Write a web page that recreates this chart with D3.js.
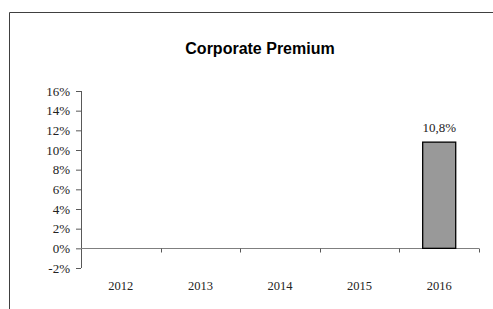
<!DOCTYPE html>
<html>
<head>
<meta charset="utf-8">
<script src="https://cdn.jsdelivr.net/npm/d3@7"></script>
<style>
  body { margin: 0; background: #fff; }
  svg { display: block; }
</style>
</head>
<body>
<svg class="chart"></svg>
<script>
const years = ["2012", "2013", "2014", "2015", "2016"]
const premium = [null, null, null, null, 10.8]
const yTicks = [-2, 0, 2, 4, 6, 8, 10, 12, 14, 16]
const title = "Corporate Premium"

const W = 493, H = 309
const margin = {top: 91, right: 14, bottom: 41, left: 81}
const width = 479 - margin.left, height = 268 - margin.top

let svg = d3.select(".chart").attr("width", W).attr("height", H)

// outer frame (only top and left edges fall inside the window)
svg.append("path")
  .attr("d", "M9.5," + H + "V12.5H" + W)
  .attr("fill", "none")
  .attr("stroke", "#404040")
  .attr("stroke-width", 1)

svg.append("text")
  .attr("x", 260).attr("y", 54)
  .attr("text-anchor", "middle")
  .style("font-family", "Liberation Sans, Arial, sans-serif")
  .style("font-size", "16px")
  .style("font-weight", "bold")
  .text(title)

let chart = svg.append("g")
  .attr("transform", "translate(" + margin.left + "," + margin.top + ")")

let x = d3.scaleBand().domain(years).range([0, width]).paddingInner(0.585).paddingOuter(0.2925)
let x2 = d3.scaleBand().domain(years).range([0, width])
let y = d3.scaleLinear().domain([-2, 16]).range([height, 0])

let fmt = d => (d + "").replace(".", ",") + "%"

// y axis
let yAxis = d3.axisLeft(y).tickValues(yTicks).tickSize(5).tickPadding(6).tickFormat(fmt)
let gy = chart.append("g").call(yAxis)
gy.select(".domain").attr("stroke", "#595959").attr("d", "M0.5," + y(16) + "V" + y(-2))
gy.selectAll(".tick line").attr("stroke", "#595959")
gy.selectAll("text")
  .style("font-family", "Liberation Serif, serif")
  .style("font-size", "13px")
  .attr("fill", "#222")

// x axis at zero
let gx = chart.append("g").attr("transform", "translate(0," + Math.round(y(0)) + ".5)")
gx.append("line").attr("x1", 0).attr("x2", width).attr("stroke", "#7f7f7f")
years.forEach((yr, i) => {
  let tx = Math.round(x2(yr) + x2.bandwidth()) + 0.5
  gx.append("line").attr("x1", tx).attr("x2", tx).attr("y1", 0).attr("y2", 4).attr("stroke", "#595959")
})
chart.selectAll(".xlab")
  .data(years)
  .enter().append("text")
  .attr("class", "xlab")
  .attr("x", d => x2(d) + x2.bandwidth() / 2)
  .attr("y", height + 22)
  .attr("text-anchor", "middle")
  .style("font-family", "Liberation Serif, serif")
  .style("font-size", "12.5px")
  .attr("fill", "#222")
  .text(d => d)

let data = years.map((d, i) => ({year: d, v: premium[i]})).filter(d => d.v != null)

chart.selectAll(".bar")
  .data(data)
  .enter().append("rect")
  .attr("class", "bar")
  .attr("x", d => x(d.year))
  .attr("y", d => y(d.v))
  .attr("width", x.bandwidth())
  .attr("height", d => y(0) - y(d.v))
  .attr("fill", "#999999")
  .attr("stroke", "#000")
  .attr("stroke-width", 1.3)

chart.selectAll(".lab")
  .data(data)
  .enter().append("text")
  .attr("x", d => x(d.year) + x.bandwidth() / 2)
  .attr("y", d => y(d.v) - 10)
  .attr("text-anchor", "middle")
  .style("font-family", "Liberation Serif, serif")
  .style("font-size", "13px")
  .attr("fill", "#222")
  .text(d => fmt(d.v))
</script>
</body>
</html>
